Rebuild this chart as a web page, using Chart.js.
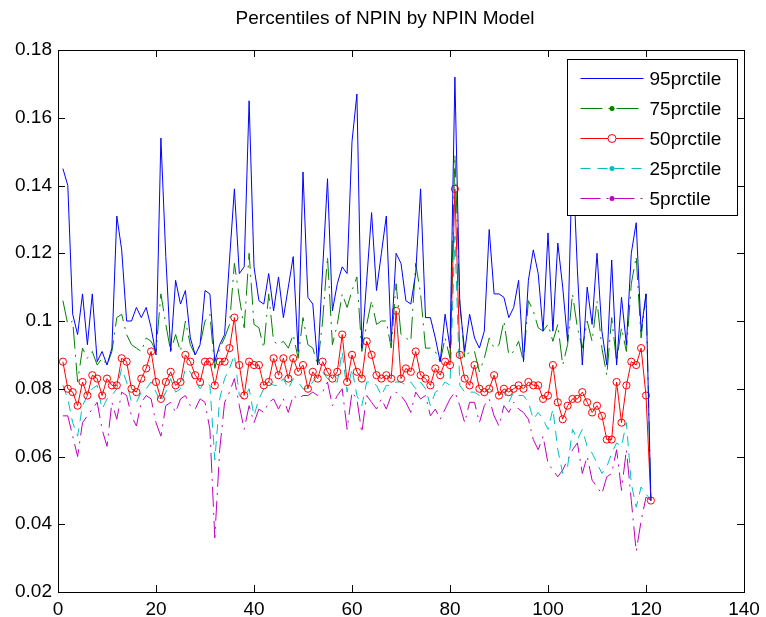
<!DOCTYPE html>
<html>
<head>
<meta charset="utf-8">
<script src="https://cdn.jsdelivr.net/npm/chart.js@4.4.0/dist/chart.umd.min.js"></script>
<style>
  html, body { margin: 0; padding: 0; background: #fff; }
  canvas { display: block; }
</style>
</head>
<body>
<canvas id="npinChart" width="766" height="617"></canvas>
<script>
// percentile series, sample 1..121
const p95 = [0.145, 0.140, 0.102, 0.096, 0.108, 0.093, 0.108, 0.088, 0.091, 0.087,
  0.092, 0.131, 0.121, 0.100, 0.100, 0.104, 0.101, 0.104, 0.098, 0.090,
  0.154, 0.119, 0.091, 0.112, 0.105, 0.109, 0.095, 0.090, 0.093, 0.109,
  0.108, 0.088, 0.093, 0.096, 0.118, 0.139, 0.114, 0.116, 0.165, 0.116,
  0.106, 0.105, 0.114, 0.103, 0.113, 0.101, 0.110, 0.119, 0.091, 0.144,
  0.107, 0.105, 0.087, 0.115, 0.142, 0.103, 0.111, 0.116, 0.114, 0.153,
  0.167, 0.092, 0.112, 0.132, 0.109, 0.120, 0.131, 0.094, 0.120, 0.117,
  0.106, 0.105, 0.114, 0.139, 0.101, 0.101, 0.095, 0.088, 0.102, 0.092,
  0.172, 0.105, 0.091, 0.102, 0.095, 0.092, 0.097, 0.127, 0.108, 0.108,
  0.107, 0.101, 0.104, 0.112, 0.088, 0.112, 0.121, 0.114, 0.097, 0.126,
  0.097, 0.123, 0.110, 0.094, 0.150, 0.115, 0.087, 0.110, 0.099, 0.120,
  0.097, 0.087, 0.118, 0.087, 0.107, 0.093, 0.120, 0.129, 0.097, 0.108,
  0.047];
const p75 = [0.106, 0.099, 0.100, 0.082, 0.092, 0.089, 0.091, 0.087, 0.089, 0.087,
  0.091, 0.101, 0.102, 0.096, 0.093, 0.092, 0.091, 0.095, 0.094, 0.091,
  0.108, 0.099, 0.091, 0.096, 0.091, 0.100, 0.093, 0.090, 0.093, 0.100,
  0.102, 0.086, 0.092, 0.095, 0.099, 0.117, 0.107, 0.098, 0.120, 0.099,
  0.098, 0.092, 0.108, 0.094, 0.093, 0.094, 0.092, 0.096, 0.089, 0.101,
  0.093, 0.092, 0.087, 0.100, 0.119, 0.093, 0.099, 0.108, 0.104, 0.109,
  0.113, 0.091, 0.099, 0.106, 0.099, 0.100, 0.100, 0.092, 0.111, 0.096,
  0.095, 0.094, 0.117, 0.108, 0.092, 0.092, 0.091, 0.088, 0.095, 0.089,
  0.149, 0.106, 0.089, 0.091, 0.091, 0.085, 0.089, 0.095, 0.092, 0.093,
  0.100, 0.090, 0.091, 0.094, 0.088, 0.106, 0.103, 0.098, 0.097, 0.099,
  0.094, 0.099, 0.087, 0.093, 0.108, 0.098, 0.092, 0.100, 0.094, 0.106,
  0.092, 0.084, 0.101, 0.088, 0.098, 0.091, 0.111, 0.119, 0.095, 0.108,
  0.047];
const p50 = [0.088, 0.080, 0.079, 0.075, 0.082, 0.078, 0.084, 0.083, 0.078, 0.083,
  0.081, 0.081, 0.089, 0.088, 0.080, 0.079, 0.083, 0.086, 0.091, 0.082,
  0.077, 0.082, 0.085, 0.081, 0.082, 0.090, 0.088, 0.084, 0.082, 0.088,
  0.088, 0.081, 0.088, 0.088, 0.092, 0.101, 0.087, 0.078, 0.088, 0.087,
  0.087, 0.081, 0.082, 0.089, 0.084, 0.089, 0.083, 0.089, 0.085, 0.087,
  0.080, 0.085, 0.083, 0.088, 0.085, 0.083, 0.085, 0.096, 0.082, 0.090,
  0.085, 0.083, 0.094, 0.090, 0.084, 0.083, 0.084, 0.083, 0.103, 0.083,
  0.086, 0.085, 0.091, 0.084, 0.083, 0.081, 0.086, 0.084, 0.088, 0.087,
  0.139, 0.090, 0.083, 0.081, 0.087, 0.080, 0.079, 0.080, 0.084, 0.078,
  0.080, 0.079, 0.080, 0.081, 0.080, 0.082, 0.081, 0.081, 0.077, 0.078,
  0.087, 0.076, 0.071, 0.075, 0.077, 0.077, 0.079, 0.076, 0.073, 0.075,
  0.072, 0.065, 0.065, 0.082, 0.070, 0.081, 0.088, 0.087, 0.092, 0.078,
  0.047];
const p25 = [0.081, 0.077, 0.070, 0.066, 0.075, 0.078, 0.080, 0.081, 0.074, 0.077,
  0.078, 0.080, 0.086, 0.082, 0.076, 0.076, 0.079, 0.080, 0.082, 0.079,
  0.076, 0.079, 0.083, 0.079, 0.080, 0.086, 0.085, 0.082, 0.080, 0.082,
  0.081, 0.059, 0.077, 0.083, 0.086, 0.090, 0.078, 0.077, 0.080, 0.072,
  0.077, 0.080, 0.082, 0.081, 0.081, 0.083, 0.080, 0.083, 0.082, 0.080,
  0.080, 0.082, 0.084, 0.085, 0.083, 0.082, 0.082, 0.091, 0.079, 0.086,
  0.078, 0.075, 0.082, 0.082, 0.081, 0.078, 0.081, 0.081, 0.082, 0.082,
  0.081, 0.082, 0.080, 0.082, 0.080, 0.075, 0.079, 0.080, 0.082, 0.081,
  0.125, 0.081, 0.079, 0.079, 0.079, 0.078, 0.079, 0.080, 0.079, 0.078,
  0.079, 0.076, 0.079, 0.078, 0.078, 0.076, 0.071, 0.073, 0.071, 0.068,
  0.074, 0.062, 0.055, 0.057, 0.068, 0.065, 0.068, 0.063, 0.061, 0.058,
  0.055, 0.057, 0.061, 0.064, 0.063, 0.070, 0.052, 0.045, 0.051, 0.049,
  0.047];
const p5 = [0.072, 0.072, 0.066, 0.060, 0.070, 0.072, 0.074, 0.076, 0.068, 0.063,
  0.076, 0.071, 0.079, 0.078, 0.072, 0.069, 0.076, 0.078, 0.077, 0.070,
  0.066, 0.075, 0.076, 0.073, 0.077, 0.078, 0.075, 0.074, 0.077, 0.076,
  0.068, 0.036, 0.062, 0.076, 0.079, 0.083, 0.075, 0.068, 0.075, 0.070,
  0.074, 0.073, 0.076, 0.077, 0.074, 0.077, 0.073, 0.078, 0.077, 0.078,
  0.078, 0.079, 0.078, 0.079, 0.082, 0.075, 0.078, 0.080, 0.068, 0.079,
  0.077, 0.067, 0.078, 0.076, 0.074, 0.077, 0.074, 0.078, 0.079, 0.078,
  0.076, 0.073, 0.079, 0.077, 0.078, 0.072, 0.074, 0.071, 0.074, 0.077,
  0.079, 0.075, 0.070, 0.076, 0.076, 0.070, 0.075, 0.077, 0.072, 0.069,
  0.075, 0.073, 0.076, 0.074, 0.073, 0.071, 0.065, 0.062, 0.066, 0.058,
  0.056, 0.054, 0.056, 0.059, 0.062, 0.064, 0.055, 0.060, 0.053, 0.051,
  0.049, 0.054, 0.055, 0.062, 0.050, 0.062, 0.047, 0.032, 0.041, 0.048,
  0.047];

const seriesLabels = ["95prctile", "75prctile", "50prctile", "25prctile", "5prctile"];
const xTicks = [0, 20, 40, 60, 80, 100, 120, 140];
const yTicks = [0.02, 0.04, 0.06, 0.08, 0.1, 0.12, 0.14, 0.16, 0.18];
const chartTitle = "Percentiles of NPIN by NPIN Model";

const FONT = "Liberation Sans, Arial, Helvetica, sans-serif";

function toPoints(arr) {
    return arr.map((v, k) => ({ x: k + 1, y: v }));
}

// title centred on the whole figure, like matlab does
const figureTitle = {
    id: "figureTitle",
    afterDraw(chart) {
        const ctx = chart.ctx;
        ctx.save();
        ctx.font = "19px " + FONT;
        ctx.fillStyle = "#000";
        ctx.textAlign = "center";
        ctx.textBaseline = "middle";
        ctx.fillText(chartTitle, chart.width / 2 + 2, 19);
        ctx.restore();
    }
};

// matlab style box with inward ticks on all four sides
const frameTicks = {
    id: "frameTicks",
    afterDatasetsDraw(chart) {
        const ctx = chart.ctx;
        const a = chart.chartArea;
        const xs = chart.scales.x, ys = chart.scales.y;
        const len = 7;
        ctx.save();
        ctx.strokeStyle = "#000";
        ctx.lineWidth = 1;
        ctx.beginPath();
        for (const t of xTicks) {
            const px = Math.round(xs.getPixelForValue(t)) + 0.5;
            ctx.moveTo(px, a.bottom);
            ctx.lineTo(px, a.bottom - len);
            ctx.moveTo(px, a.top);
            ctx.lineTo(px, a.top + len);
        }
        for (const t of yTicks) {
            const py = Math.round(ys.getPixelForValue(t)) + 0.5;
            ctx.moveTo(a.left, py);
            ctx.lineTo(a.left + len, py);
            ctx.moveTo(a.right, py);
            ctx.lineTo(a.right - len, py);
        }
        ctx.stroke();
        ctx.strokeRect(Math.round(a.left) + 0.5, Math.round(a.top) + 0.5,
            Math.round(a.right - a.left), Math.round(a.bottom - a.top));
        ctx.restore();
    }
};

// legend box drawn inside the plot, top right
const insideLegend = {
    id: "insideLegend",
    afterDraw(chart) {
        const ctx = chart.ctx;
        const a = chart.chartArea;
        const boxW = 170, boxH = 156;
        const bx = a.right - 7 - boxW + 0.5;
        const by = a.top + 9 + 0.5;
        ctx.save();
        ctx.fillStyle = "#fff";
        ctx.fillRect(bx, by, boxW, boxH);
        ctx.strokeStyle = "#000";
        ctx.lineWidth = 1;
        ctx.strokeRect(bx, by, boxW, boxH);
        ctx.font = "19px " + FONT;
        ctx.textBaseline = "middle";
        chart.data.datasets.forEach((ds, i) => {
            const y = Math.round(by + 18 + i * 30) + 0.5;
            const x0 = bx + 13, x1 = bx + 76;
            ctx.strokeStyle = ds.borderColor;
            ctx.lineWidth = 1;
            ctx.setLineDash(ds.borderDash || []);
            ctx.beginPath();
            ctx.moveTo(x0, y);
            ctx.lineTo(x1, y);
            ctx.stroke();
            ctx.setLineDash([]);
            const mx = (x0 + x1) / 2;
            if (ds.legendMarker === "circle") {
                ctx.beginPath();
                ctx.arc(mx, y, 4, 0, Math.PI * 2);
                ctx.fillStyle = "#fff";
                ctx.fill();
                ctx.stroke();
            } else if (ds.legendMarker === "dot") {
                ctx.beginPath();
                ctx.arc(mx, y, 2.5, 0, Math.PI * 2);
                ctx.fillStyle = ds.borderColor;
                ctx.fill();
            }
            ctx.fillStyle = "#000";
            ctx.fillText(ds.label, bx + 82, y + 1);
        });
        ctx.restore();
    }
};

const ctx = document.getElementById("npinChart").getContext("2d");
const myChart = new Chart(ctx, {
    type: "line",
    data: {
        datasets: [
            {
                label: seriesLabels[0],
                data: toPoints(p95),
                borderColor: "#0000ff",
                borderWidth: 1,
                pointRadius: 0,
                legendMarker: "none",
            },
            {
                label: seriesLabels[1],
                data: toPoints(p75),
                borderColor: "#008000",
                borderWidth: 1,
                borderDash: [22, 6, 2, 6],
                pointRadius: 0,
                legendMarker: "dot",
            },
            {
                label: seriesLabels[2],
                data: toPoints(p50),
                borderColor: "#ff0000",
                borderWidth: 1,
                pointRadius: 3.6,
                pointStyle: "circle",
                pointBackgroundColor: "rgba(255,255,255,0)",
                pointBorderColor: "#ff0000",
                pointBorderWidth: 1,
                legendMarker: "circle",
            },
            {
                label: seriesLabels[3],
                data: toPoints(p25),
                borderColor: "#00bfbf",
                borderWidth: 1,
                borderDash: [10, 7],
                pointRadius: 0,
                legendMarker: "dot",
            },
            {
                label: seriesLabels[4],
                data: toPoints(p5),
                borderColor: "#bf00bf",
                borderWidth: 1,
                borderDash: [20, 6, 2, 6],
                pointRadius: 0,
                legendMarker: "dot",
            },
        ],
    },
    options: {
        responsive: false,
        animation: false,
        layout: { padding: { left: 0, right: 22, top: 50, bottom: 0 } },
        plugins: {
            legend: { display: false },
            tooltip: { enabled: false },
            title: { display: false },
        },
        scales: {
            x: {
                type: "linear",
                min: 0,
                max: 140,
                afterBuildTicks: (s) => { s.ticks = xTicks.map((v) => ({ value: v })); },
                afterFit: (s) => { s.height = 25; },
                grid: { display: false, drawTicks: false },
                border: { display: false },
                ticks: {
                    color: "#000",
                    font: { family: FONT, size: 19 },
                    padding: 6,
                    maxRotation: 0,
                    autoSkip: false,
                },
            },
            y: {
                type: "linear",
                min: 0.02,
                max: 0.18,
                afterBuildTicks: (s) => { s.ticks = yTicks.map((v) => ({ value: v })); },
                afterFit: (s) => { s.width = 58; },
                grid: { display: false, drawTicks: false },
                border: { display: false },
                ticks: {
                    color: "#000",
                    font: { family: FONT, size: 19 },
                    padding: 6,
                    callback: (v) => String(Number(v.toFixed(2))),
                },
            },
        },
    },
    plugins: [frameTicks, insideLegend, figureTitle],
});
</script>
</body>
</html>
